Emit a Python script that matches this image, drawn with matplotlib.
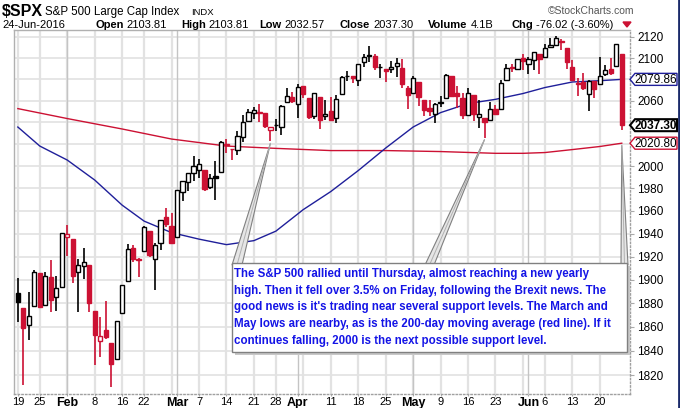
import matplotlib
matplotlib.use("Agg")
import matplotlib.pyplot as plt
from matplotlib.patches import Polygon, Rectangle
from matplotlib import font_manager
from matplotlib.ticker import NullLocator, FixedLocator
import numpy as np
import pandas as pd

plt.rcParams['font.family'] = ['Liberation Sans', 'DejaVu Sans']

# trading days, 19-Jan-2016 .. 24-Jun-2016
holidays = ['2016-02-15', '2016-03-25', '2016-05-30']
dates = pd.bdate_range('2016-01-19', '2016-06-24').drop(pd.to_datetime(holidays))

opens = [1888.66, 1876.18, 1861.46, 1877.40, 1906.28, 1878.79, 1902.52, 1885.22, 1894.00,
         1936.94, 1935.26, 1907.07, 1911.67, 1913.07, 1873.25, 1848.46, 1857.10, 1847.00, 1833.40,
         1871.44, 1898.80, 1927.57, 1916.74, 1924.44, 1942.38, 1917.56, 1931.87, 1954.95,
         1947.13, 1937.09, 1976.60, 1985.60, 1994.01, 1996.11, 1996.11, 1981.44, 1990.97, 1994.71,
         2019.27, 2015.27, 2014.24, 2026.90, 2041.16, 2048.64, 2048.64, 2048.55, 2032.48,
         2037.89, 2035.75, 2058.27, 2063.77, 2056.62, 2073.19, 2062.50, 2045.56, 2063.01, 2045.54,
         2050.23, 2043.72, 2065.92, 2082.89, 2083.10, 2078.83, 2096.05, 2101.52, 2102.09, 2091.49,
         2089.37, 2089.84, 2092.57, 2090.93, 2071.82, 2067.17, 2077.18, 2060.30, 2052.95, 2047.77,
         2057.55, 2062.63, 2083.29, 2067.17, 2062.50, 2046.53, 2065.04, 2044.38, 2044.21, 2041.88,
         2052.23, 2052.65, 2078.93, 2091.44, 2090.06, 2100.13, 2093.94, 2097.71, 2104.07,
         2100.83, 2110.18, 2112.71, 2115.65, 2109.57, 2091.75, 2076.65, 2077.60, 2066.36, 2078.20,
         2075.58, 2085.19, 2089.75, 2092.80, 2103.81]
highs = [1901.44, 1876.18, 1889.85, 1908.85, 1906.28, 1906.73, 1916.99, 1902.96, 1940.24,
         1947.20, 1935.26, 1918.01, 1927.35, 1913.07, 1873.25, 1868.25, 1881.60, 1847.00, 1864.78,
         1895.77, 1930.68, 1930.00, 1918.78, 1946.70, 1942.38, 1932.08, 1951.83, 1962.96,
         1958.27, 1978.35, 1986.51, 1993.69, 2009.13, 2006.12, 1996.11, 1992.69, 2005.08, 2022.37,
         2024.57, 2015.94, 2032.02, 2046.24, 2052.36, 2053.91, 2056.60, 2048.55, 2036.04,
         2042.67, 2055.91, 2072.21, 2067.92, 2075.07, 2074.02, 2062.50, 2067.33, 2063.01, 2060.63,
         2062.93, 2065.05, 2083.18, 2087.84, 2083.22, 2094.66, 2104.05, 2111.05, 2103.78, 2094.32,
         2089.37, 2096.87, 2099.89, 2099.30, 2073.85, 2083.42, 2077.18, 2060.30, 2060.23, 2057.72,
         2064.15, 2084.87, 2083.29, 2073.99, 2066.79, 2071.88, 2065.69, 2060.61, 2044.21, 2058.35,
         2055.58, 2079.67, 2094.73, 2094.30, 2099.06, 2103.48, 2100.97, 2105.26, 2104.07,
         2113.36, 2119.22, 2120.55, 2117.64, 2109.57, 2098.12, 2081.30, 2085.65, 2079.62, 2078.20,
         2100.66, 2093.66, 2099.74, 2113.32, 2103.81]
lows = [1864.60, 1812.29, 1848.98, 1877.40, 1875.97, 1878.79, 1872.70, 1873.65, 1894.00,
        1920.30, 1897.29, 1872.23, 1900.52, 1872.65, 1828.46, 1834.94, 1850.32, 1810.10, 1833.40,
        1871.44, 1898.80, 1915.09, 1902.17, 1924.44, 1919.44, 1891.00, 1925.41, 1945.78,
        1931.81, 1937.09, 1968.80, 1977.37, 1986.77, 1989.38, 1977.43, 1979.84, 1969.25, 1994.71,
        2012.05, 2005.23, 2010.04, 2022.16, 2041.16, 2043.14, 2040.57, 2034.86, 2022.49,
        2031.96, 2028.31, 2058.27, 2057.46, 2043.98, 2062.57, 2042.56, 2043.09, 2033.80, 2041.69,
        2041.88, 2039.74, 2065.92, 2078.13, 2076.31, 2073.65, 2091.68, 2096.32, 2088.52, 2081.20,
        2077.52, 2085.80, 2082.31, 2071.62, 2052.28, 2066.11, 2054.89, 2045.55, 2045.77, 2039.45,
        2054.31, 2062.63, 2064.46, 2053.13, 2043.13, 2046.53, 2040.82, 2034.49, 2025.91, 2041.88,
        2047.26, 2052.65, 2078.93, 2087.08, 2090.06, 2088.66, 2085.10, 2088.59, 2085.36,
        2100.83, 2110.18, 2112.71, 2107.73, 2089.96, 2078.46, 2064.10, 2069.80, 2050.37, 2062.84,
        2075.58, 2083.02, 2084.36, 2092.80, 2032.57]
closes = [1881.33, 1859.33, 1868.99, 1906.90, 1877.08, 1903.63, 1882.95, 1893.36, 1940.24,
          1939.38, 1903.03, 1912.53, 1915.45, 1880.05, 1853.44, 1852.21, 1851.86, 1829.08, 1864.78,
          1895.58, 1926.82, 1917.83, 1917.78, 1945.50, 1921.27, 1929.80, 1951.70, 1948.05,
          1932.23, 1978.35, 1986.45, 1993.40, 1999.99, 2001.76, 1979.26, 1989.26, 1989.57, 2022.19,
          2019.64, 2015.93, 2027.22, 2040.59, 2049.58, 2051.60, 2049.80, 2036.71, 2035.94,
          2037.05, 2055.01, 2063.95, 2059.74, 2072.78, 2066.13, 2045.17, 2066.66, 2041.91, 2047.60,
          2041.99, 2061.72, 2082.42, 2082.78, 2080.73, 2094.34, 2100.80, 2102.40, 2091.48, 2091.58,
          2087.79, 2091.70, 2095.15, 2075.81, 2065.30, 2081.43, 2063.37, 2051.12, 2050.63, 2057.14,
          2058.69, 2084.39, 2064.46, 2064.11, 2046.61, 2066.66, 2047.21, 2047.63, 2040.04, 2052.32,
          2048.04, 2076.06, 2090.54, 2090.10, 2099.06, 2096.95, 2099.33, 2105.26, 2099.13,
          2109.41, 2112.13, 2119.12, 2115.48, 2096.07, 2079.06, 2075.32, 2071.50, 2077.99, 2071.22,
          2083.25, 2088.90, 2085.45, 2113.32, 2037.30]
prev_close = 1880.33

# moving averages (trading-day index, value)
ma50_day = [0, 4, 9, 14, 19, 23, 28, 33, 38, 43, 47, 52, 57, 62, 67, 72, 77, 82, 87, 92, 96, 101, 106, 110]
ma50 = [2035.6, 2018.2, 2005.5, 1987.5, 1965.1, 1951.0, 1940.9, 1935.2, 1930.4, 1933.9, 1942.2,
        1961.2, 1977.2, 1996.0, 2016.4, 2035.6, 2048.9, 2057.3, 2061.2, 2066.6, 2072.2, 2077.4,
        2078.6, 2079.86]
ma200_day = [0, 9, 19, 28, 38, 47, 57, 67, 77, 87, 92, 96, 101, 106, 110]
ma200 = [2052.6, 2043.4, 2033.8, 2024.6, 2018.2, 2016.1, 2014.1, 2014.1, 2013.2, 2011.6, 2011.6,
         2012.3, 2015.0, 2017.8, 2020.80]

note_lines = [
    "The S&P 500 rallied until Thursday, almost reaching a new yearly",
    "high. Then it fell over 3.5% on Friday, following the Brexit news. The",
    "good news is it's trading near several support levels. The March and",
    "May lows are nearby, as is the 200-day moving average (red line). If it",
    "continues falling, 2000 is the next possible support level.",
]

RED = '#cc1133'
BLUE = '#1f1f9a'
W, H = 680, 408

fig = plt.figure(figsize=(W / 100, H / 100), dpi=100)
L, R, T, B = 14, 630, 30, 394
ax = fig.add_axes([L / W, 1 - B / H, (R - L) / W, (B - T) / H])
ax.set_yscale('log')
ax.set_ylim(1804.6, 2126.7)
ax.set_xlim(-0.7, 111.5)

# grid
yt = list(range(1820, 2121, 20))
hidden = {2080, 2040, 2020}   # covered by the price tags
ax.yaxis.set_major_locator(FixedLocator(yt))
ax.yaxis.set_minor_locator(NullLocator())
ax.set_yticklabels(['' if v in hidden else str(v) for v in yt])
for v in yt:
    ax.axhline(v, color='#e2e2e2', lw=1.2, zorder=0)

x = np.arange(len(dates))
month_first = [i for i in x if i > 0 and dates[i].month != dates[i - 1].month]
week_first = [i for i in x if i == 0 or dates[i].weekday() <= dates[i - 1].weekday()]
for i in week_first:
    ax.axvline(i, color='#e2e2e2', lw=1.6, zorder=0)
for i in month_first:
    ax.axvline(i, color='#c4c4c4', lw=1.0, zorder=0)

tick_pos, tick_lab, tick_bold = [], [], []
for i in month_first:
    tick_pos.append(i); tick_lab.append(dates[i].strftime('%b')); tick_bold.append(True)
for i in week_first:
    if all(abs(i - m) > 2 for m in month_first):
        tick_pos.append(i); tick_lab.append(str(dates[i].day)); tick_bold.append(False)
ax.set_xticks(tick_pos)
ax.set_xticklabels(tick_lab, fontsize=8)
for t, b in zip(ax.get_xticklabels(), tick_bold):
    if b:
        t.set_fontweight('bold')
        t.set_fontsize(9)

ax.yaxis.tick_right()
ax.tick_params(axis='y', length=3, width=0.8, color='#aaaaaa', pad=2, labelsize=8.5)
ax.tick_params(axis='x', length=1.5, width=0.8, color='#aaaaaa', pad=1)
for s in ['left', 'top']:
    ax.spines[s].set_color('#b0b0b0')
    ax.spines[s].set_linewidth(1.0)
for s in ['right', 'bottom']:
    ax.spines[s].set_color('#a0a0a0')
    ax.spines[s].set_linestyle(':')
    ax.spines[s].set_linewidth(1.0)

# moving averages
ax.plot(ma200_day, ma200, color=RED, lw=1.0, zorder=2)
ax.plot(ma50_day, ma50, color=BLUE, lw=1.0, zorder=2)

# candles
prev = [prev_close] + closes[:-1]
for i in x:
    o, h, l, c = opens[i], highs[i], lows[i], closes[i]
    col = RED if c < prev[i] else 'black'
    ax.vlines(i, l, h, color=col, lw=1.2, zorder=3)
    lo, hi = min(o, c), max(o, c)
    face = 'white' if c > o else col
    ax.bar(i, max(hi - lo, 0.3), bottom=lo, width=0.78, color=face, edgecolor=col,
           linewidth=1.0, zorder=4)

# overlay in pixel coordinates
ov = fig.add_axes([0, 0, 1, 1])
ov.set_xlim(0, W)
ov.set_ylim(H, 0)
ov.axis('off')
ov.set_zorder(10)
rend = fig.canvas.get_renderer()


def px(i, v):
    fx, fy = ax.transData.transform((i, v))
    return fx, H - fy


# header
ov.text(2, 12, '$SPX', fontsize=11.5, fontweight='bold', va='center')
ov.text(45, 12, 'S&P 500 Large Cap Index', fontsize=8.3, va='center')
ov.text(191, 12.5, 'INDX', fontsize=6.8, va='center')
ov.text(634, 11, '\u00a9StockCharts.com', fontsize=7.5, color='#555555', va='center', ha='right')
ov.text(2, 24.5, '24-Jun-2016', fontsize=8, va='center')
line2 = [("Open", "2103.81", 95), ("High", "2103.81", 181), ("Low", "2032.57", 259),
         ("Close", "2037.30", 340), ("Volume", "4.1B", 428), ("Chg", "-76.02 (-3.60%)", 511)]
for lab, val, xp in line2:
    t = ov.text(xp, 24.5, lab, fontsize=8, fontweight='bold', va='center')
    wpx = t.get_window_extent(rend).width
    ov.text(xp + wpx + 3, 24.5, val, fontsize=8, va='center')
ov.add_patch(Polygon([(623, 22), (631, 22), (627, 27)], closed=True, color=RED))

# right-edge price tags
tags = [(ma50[-1], BLUE, 'normal', 1.0), (closes[-1], 'black', 'bold', 1.5),
        (ma200[-1], RED, 'normal', 1.0)]
for v, ec, wgt, lw in tags:
    _, cy = px(110, v)
    ov.add_patch(Polygon([(630, cy), (635, cy - 6), (677, cy - 6), (677, cy + 6), (635, cy + 6)],
                         closed=True, facecolor='white', edgecolor=ec, lw=lw, zorder=5))
    ov.text(656, cy + 0.5, f'{v:.2f}', fontsize=8.5, fontweight=wgt, ha='center', va='center',
            zorder=6)

ov.plot([678.5, 678.5], [0, H], color='#1a2a6a', lw=2)

# callout pointers
bx0, by0, bx1, by1 = 232, 263, 627, 352
tips = [(px(46, lows[46]), (232, 242)), (px(85, lows[85]), (425, 434)),
        (px(110, ma200[-1]), (621, 628))]
for (tx, ty), (b0, b1) in tips:
    ty += 2
    ov.add_patch(Polygon([(b0, by0 + 2), (tx, ty), (b1, by0 + 2)], closed=True,
                         facecolor='#e6e6e6', edgecolor='#808080', lw=0.8, zorder=3))
    ov.plot([(b0 + b1) / 2, tx], [by0 + 2, ty], color='#b0b0b0', lw=0.7, zorder=3)

# note box
ov.add_patch(Rectangle((bx0 + 3, by0 + 3), bx1 - bx0, by1 - by0, facecolor='#c8c8c8',
                       edgecolor='none', zorder=3))
ov.add_patch(Rectangle((bx0, by0), bx1 - bx0, by1 - by0, facecolor='white',
                       edgecolor='#808080', lw=1.0, zorder=4))

try:
    font_manager.findfont('Liberation Sans Narrow', fallback_to_default=False)
    note_font, note_size = ['Liberation Sans Narrow'], 9.2
except ValueError:
    note_font, note_size = ['Liberation Sans'], 8.3
for k, s in enumerate(note_lines):
    ov.text(234, 274 + 16.7 * k, s, fontsize=note_size, fontweight='bold', family=note_font,
            color='#1414e6', va='center', zorder=5)

fig.savefig('out.png', dpi=100)
